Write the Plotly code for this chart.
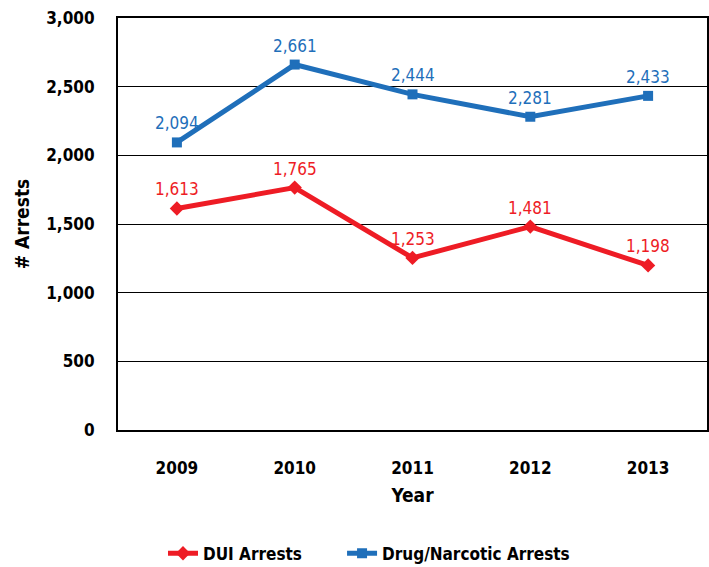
import plotly.graph_objects as go

years = ["2009", "2010", "2011", "2012", "2013"]
dui = [1613, 1765, 1253, 1481, 1198]
drug = [2094, 2661, 2444, 2281, 2433]
y_ticks = [0, 500, 1000, 1500, 2000, 2500, 3000]

FONT = "'DejaVu Sans Condensed', 'Liberation Sans', sans-serif"
RED = "#ee1c25"
BLUE = "#1f6fba"

fig = go.Figure()
fig.add_trace(go.Scatter(
    x=years, y=dui, name="DUI Arrests", mode="lines+markers",
    line=dict(color=RED, width=5), marker=dict(symbol="diamond", size=11, color=RED),
    legend="legend",
))
fig.add_trace(go.Scatter(
    x=years, y=drug, name="Drug/Narcotic Arrests", mode="lines+markers",
    line=dict(color=BLUE, width=5), marker=dict(symbol="square", size=10, color=BLUE),
    legend="legend2",
))

# value labels above each point (category index positions)
for series, color in ((dui, RED), (drug, BLUE)):
    for i, v in enumerate(series):
        fig.add_annotation(x=i, y=v, xref="x", yref="y", text=f"{v:,}", showarrow=False,
                           yshift=19, yanchor="middle",
                           font=dict(family=FONT, size=17, color=color))

legend_font = dict(family=FONT, size=17, color="black", weight="bold")
fig.update_layout(
    width=709, height=567,
    margin=dict(l=118, r=2, t=18, b=137, autoexpand=False),
    paper_bgcolor="white", plot_bgcolor="white",
    font=dict(family=FONT, color="black"),
    showlegend=True,
    legend=dict(orientation="h", x=0.0764, xanchor="left", y=-0.2566, yanchor="top",
                font=legend_font, itemwidth=30),
    legend2=dict(orientation="h", x=0.3804, xanchor="left", y=-0.2566, yanchor="top",
                 font=legend_font, itemwidth=30),
    xaxis=dict(
        type="category", range=[-0.5, 4.5], automargin=False,
        showline=True, linecolor="black", linewidth=2, mirror=True,
        showgrid=False, ticks="", ticklabelstandoff=22,
        tickfont=dict(family=FONT, size=17, color="black", weight="bold"),
        title=dict(text="Year", font=dict(family=FONT, size=19, color="black", weight="bold"), standoff=11),
    ),
    yaxis=dict(
        range=[0, 3000], tickvals=y_ticks, tickformat=",", automargin=False,
        ticklabeloverflow="allow",
        showline=True, linecolor="black", linewidth=2, mirror=True,
        showgrid=True, gridcolor="black", gridwidth=1.2, zeroline=False,
        ticks="", ticklabelstandoff=18,
        tickfont=dict(family=FONT, size=17, color="black", weight="bold"),
        title=dict(text="# Arrests", font=dict(family=FONT, size=19, color="black", weight="bold"), standoff=12),
    ),
)

fig.write_html("out.html", config={"displayModeBar": False},
               post_script="document.body.style.margin='0';")
